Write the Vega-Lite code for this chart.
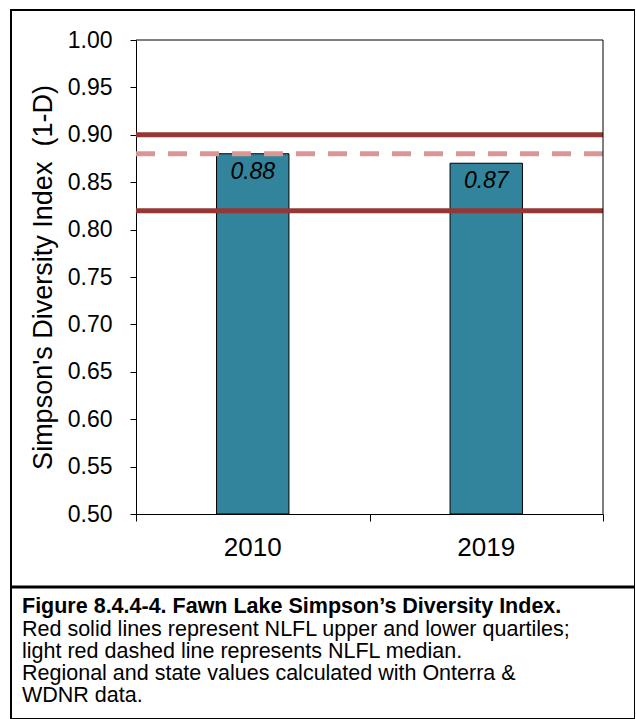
{
  "$schema": "https://vega.github.io/schema/vega-lite/v6.json",
  "autosize": "none",
  "width": 624,
  "height": 709,
  "padding": {"left": 11, "top": 10, "right": 0, "bottom": 0},
  "background": "white",
  "config": {
    "view": {"stroke": "black", "strokeWidth": 2},
    "font": "Liberation Sans",
    "axis": {"labelColor": "black", "titleColor": "black", "labelFont": "Liberation Sans", "titleFont": "Liberation Sans", "grid": false, "domainColor": "black", "tickColor": "black"}
  },
  "title": {
    "text": "Figure 8.4.4-4. Fawn Lake Simpson’s Diversity Index.",
    "subtitle": [
      "Red solid lines represent NLFL upper and lower quartiles;",
      "light red dashed line represents NLFL median.",
      "Regional and state values calculated with Onterra &",
      "WDNR data."
    ],
    "orient": "bottom",
    "anchor": "start",
    "frame": "group",
    "offset": -123,
    "dx": 11,
    "font": "Liberation Sans",
    "fontSize": 21.5,
    "fontWeight": "bold",
    "color": "black",
    "subtitleFont": "Liberation Sans",
    "subtitleFontSize": 21.5,
    "subtitleColor": "black",
    "subtitleLineHeight": 22,
    "subtitlePadding": 1.5
  },
  "datasets": {
    "bars": [
      {"year": "2010", "value": 0.88},
      {"year": "2019", "value": 0.87}
    ],
    "refs": [
      {"kind": "upper quartile", "value": 0.90},
      {"kind": "lower quartile", "value": 0.82},
      {"kind": "median", "value": 0.88}
    ]
  },
  "layer": [
    {
      "data": {"name": "bars"},
      "mark": {"type": "bar", "fill": "#31849B", "stroke": "black", "strokeWidth": 1, "width": {"band": 0.31}},
      "encoding": {
        "x": {
          "field": "year", "type": "nominal",
          "scale": {"domain": ["2010", "2019"], "range": [125, 592], "paddingInner": 0, "paddingOuter": 0},
          "axis": {"orient": "bottom", "title": null, "labelAngle": 0, "labelFontSize": 26, "ticks": false, "domain": true, "labelPadding": 20, "offset": -205}
        },
        "y": {
          "field": "value", "type": "quantitative",
          "scale": {"domain": [0.5, 1.0], "range": [504, 30], "zero": false, "nice": false},
          "axis": {
            "values": [0.5, 0.55, 0.6, 0.65, 0.7, 0.75, 0.8, 0.85, 0.9, 0.95, 1.0],
            "format": ".2f", "offset": -125, "labelFontSize": 23, "tickSize": 6,
            "labelPadding": 18, "title": "Simpson's Diversity Index \u00a0(1-D)",
            "titleFontSize": 27, "titleFontWeight": "normal", "titlePadding": 10
          }
        },
        "y2": {"datum": 0.5}
      }
    },
    {
      "data": {"name": "refs"},
      "transform": [{"filter": "datum.kind != 'median'"}],
      "mark": {"type": "rule", "color": "#953735", "strokeWidth": 5},
      "encoding": {
        "y": {"field": "value", "type": "quantitative"},
        "x": {"datum": 0, "type": "quantitative", "scale": {"domain": [0, 1], "range": [125, 592]},
              "axis": {"orient": "bottom", "values": [0, 0.5, 1], "labels": false, "domain": false, "ticks": true, "tickSize": 7, "title": null, "offset": -205, "grid": false}},
        "x2": {"datum": 1}
      }
    },
    {
      "data": {"name": "refs"},
      "transform": [{"filter": "datum.kind == 'median'"}],
      "mark": {"type": "rule", "color": "#D99694", "strokeWidth": 5, "strokeDash": [19, 13]},
      "encoding": {
        "y": {"field": "value", "type": "quantitative"},
        "x": {"datum": 0, "type": "quantitative", "scale": {"domain": [0, 1], "range": [125, 592]}, "axis": null},
        "x2": {"datum": 1}
      }
    },
    {
      "data": {"values": [{"edge": "top"}]},
      "mark": {"type": "rule", "color": "black", "strokeWidth": 1},
      "encoding": {
        "y": {"datum": 1.0, "type": "quantitative"},
        "x": {"datum": 0, "type": "quantitative", "scale": {"domain": [0, 1], "range": [125, 592]}, "axis": null},
        "x2": {"datum": 1}
      }
    },
    {
      "data": {"values": [{"edge": "right"}]},
      "mark": {"type": "rule", "color": "black", "strokeWidth": 1},
      "encoding": {
        "x": {"datum": 1, "type": "quantitative", "scale": {"domain": [0, 1], "range": [125, 592]}, "axis": null},
        "y": {"datum": 0.5, "type": "quantitative"},
        "y2": {"datum": 1.0}
      }
    },
    {
      "data": {"values": [{"edge": "caption"}]},
      "mark": {"type": "rule", "color": "black", "strokeWidth": 3},
      "encoding": {
        "y": {"datum": 0.423, "type": "quantitative"}
      }
    },
    {
      "data": {"name": "bars"},
      "mark": {"type": "text", "fontStyle": "italic", "fontSize": 23, "baseline": "top", "dy": 7, "color": "black", "font": "Liberation Sans"},
      "encoding": {
        "x": {"field": "year", "type": "nominal", "scale": {"domain": ["2010", "2019"], "range": [125, 592], "paddingInner": 0, "paddingOuter": 0}, "axis": null},
        "y": {"field": "value", "type": "quantitative"},
        "text": {"field": "value", "type": "quantitative", "format": ".2f"}
      }
    }
  ],
  "resolve": {"scale": {"x": "independent"}, "axis": {"x": "independent"}}
}
